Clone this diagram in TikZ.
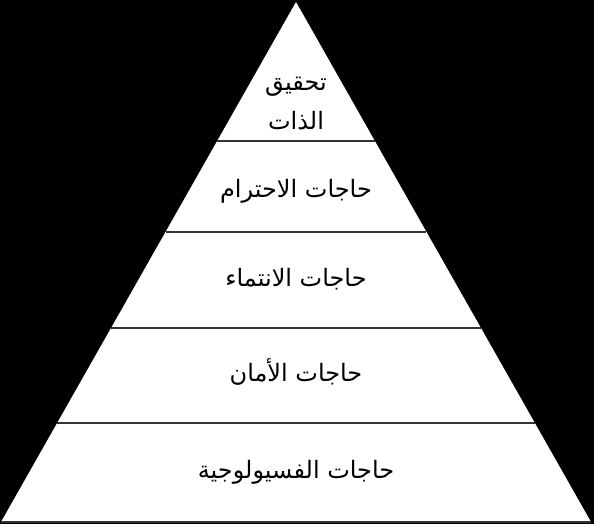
\documentclass[tikz,border=0pt]{standalone}
\usepackage{fontspec}
\newfontfamily\arabicfont[Script=Arabic]{DejaVu Sans}
\TeXXeTstate=1
\usetikzlibrary{calc}
\tikzset{
  label/.style={font=\arabicfont\fontsize{24}{28}\selectfont, anchor=base, inner sep=0pt, text=black},
  sep/.style={draw=black!80, line width=1.3pt}
}
\begin{document}
\begin{tikzpicture}[x=1pt,y=-1pt]
\fill[black] (0,0) rectangle (594,524);
\useasboundingbox (0,0) rectangle (594,524);
\coordinate (A) at (296,2);
\coordinate (L) at (1,522);
\coordinate (R) at (591,522);
\fill[white] (A) -- (L) -- (R) -- cycle;
\foreach \t/\n in {0.2673/1,0.4423/2,0.6269/3,0.8096/4}{
  \coordinate (l\n) at ($(A)!\t!(L)$);
  \coordinate (r\n) at ($(A)!\t!(R)$);
  \draw[sep] (l\n) -- (r\n);
}
\draw[sep] (L) -- (R);
\node[label] (t1) at (296,91) {\beginR تحقيق\endR};
\node[label] (t2) at (296,129) {\beginR الذات\endR};
\node[label] (t3) at (296,197) {\beginR حاجات الاحترام\endR};
\node[label] (t4) at (296,286) {\beginR حاجات الانتماء\endR};
\node[label] (t5) at (296,381) {\beginR حاجات الأمان\endR};
\node[label] (t6) at (296,478) {\beginR حاجات الفسيولوجية\endR};
\end{tikzpicture}
\end{document}
